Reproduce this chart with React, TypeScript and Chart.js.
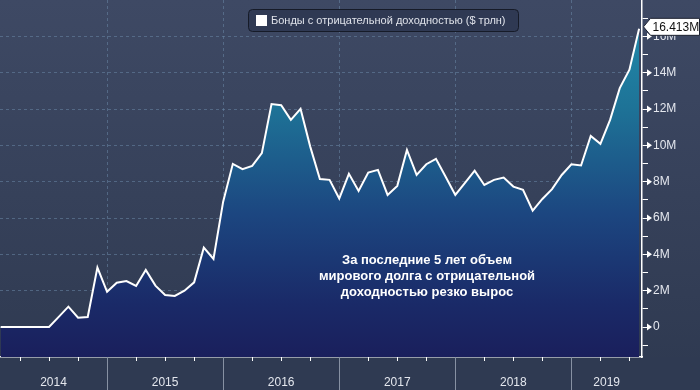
import React, { useEffect, useRef } from "react";
import { Chart, registerables } from "chart.js";

Chart.register(...registerables);

// months since Jan 2014 (month-end points)
const months: number[] = Array.from({ length: 67 }, (_, i) => i + 1);
const values: number[] = [
  0, 0, 0, 0, 0, 0, 0.56, 1.12, 0.51, 0.55, 3.27, 1.94,
  2.44, 2.53, 2.26, 3.14, 2.28, 1.76, 1.71, 2.0, 2.46, 4.37, 3.75, 6.9,
  8.98, 8.69, 8.87, 9.57, 12.27, 12.21, 11.4, 12.01, 9.93, 8.15, 8.1, 7.07,
  8.43, 7.49, 8.5, 8.65, 7.27, 7.77, 9.75, 8.37, 8.96, 9.26, 8.27, 7.27,
  7.94, 8.61, 7.82, 8.1, 8.23, 7.73, 7.55, 6.41, 7.05, 7.59, 8.37, 8.96,
  8.89, 10.52, 10.08, 11.4, 13.15, 14.16, 16.413,
];
const yearLabels: string[] = ["2014", "2015", "2016", "2017", "2018", "2019"];
const yearBoundaries: number[] = [12, 24, 36, 48, 60];
const quarterTicks: number[] = [3, 6, 9, 15, 18, 21, 27, 30, 33, 39, 42, 45, 51, 54, 57, 63, 66];
const yTickValues: number[] = [-1, 0, 1, 2, 3, 4, 5, 6, 7, 8, 9, 10, 11, 12, 13, 14, 15, 16, 17];
const legendText = "Бонды с отрицательной доходностью ($ трлн)";
const lastValueLabel = "16.413M";
const annotationLines: string[] = [
  "За последние 5 лет объем",
  "мирового долга с отрицательной",
  "доходностью резко вырос",
];

const X_MIN = 0.93;
const X_MAX = 67.3;
const GRID = "rgba(105,135,165,0.55)";
const FONT = "'Liberation Sans', Arial, sans-serif";

const decorPlugin = {
  id: "decor",
  beforeDraw(chart: any) {
    const { ctx, width, height, chartArea } = chart;
    ctx.save();
    const bg = ctx.createLinearGradient(0, 0, 0, height);
    bg.addColorStop(0, "#3e4964");
    bg.addColorStop(1, "#2e3950");
    ctx.fillStyle = bg;
    ctx.fillRect(0, 0, width, height);
    ctx.fillStyle = "#2f3a52";
    ctx.fillRect(0, chartArea.bottom, width, height - chartArea.bottom);
    ctx.restore();
  },
  afterDraw(chart: any) {
    const { ctx, chartArea } = chart;
    const xs = chart.scales.x;
    const ys = chart.scales.y;
    ctx.save();
    // year separators below axis
    ctx.strokeStyle = "#8791a3";
    ctx.lineWidth = 1;
    yearBoundaries.forEach((m) => {
      const px = Math.round(xs.getPixelForValue(m)) + 0.5;
      ctx.beginPath();
      ctx.moveTo(px, chartArea.bottom);
      ctx.lineTo(px, chart.height);
      ctx.stroke();
    });
    // quarter ticks
    ctx.strokeStyle = "#ffffff";
    quarterTicks.forEach((m) => {
      const px = Math.round(xs.getPixelForValue(m)) + 0.5;
      ctx.beginPath();
      ctx.moveTo(px, chartArea.bottom);
      ctx.lineTo(px, chartArea.bottom + 4);
      ctx.stroke();
    });
    // year labels
    ctx.fillStyle = "#e4e7ee";
    ctx.font = `12px ${FONT}`;
    ctx.textAlign = "center";
    ctx.textBaseline = "middle";
    yearLabels.forEach((lab, i) => {
      const a = Math.max(i * 12, X_MIN);
      const b = Math.min((i + 1) * 12, X_MAX);
      const px = xs.getPixelForValue((a + b) / 2);
      ctx.fillText(lab, px, 383);
    });
    // triangles at major y ticks
    ctx.fillStyle = "#ffffff";
    yTickValues.forEach((v) => {
      if (v % 2 !== 0) return;
      const py = ys.getPixelForValue(v);
      ctx.beginPath();
      ctx.moveTo(chartArea.right + 5, py - 3.5);
      ctx.lineTo(chartArea.right + 10, py);
      ctx.lineTo(chartArea.right + 5, py + 3.5);
      ctx.closePath();
      ctx.fill();
    });
    // last value tag
    const last = values[values.length - 1];
    const ty = ys.getPixelForValue(last) - 2;
    const tx = chartArea.right + 1.5;
    ctx.beginPath();
    ctx.moveTo(tx, ty);
    ctx.lineTo(tx + 7, ty - 8.5);
    ctx.lineTo(699.5, ty - 8.5);
    ctx.lineTo(699.5, ty + 8.5);
    ctx.lineTo(tx + 7, ty + 8.5);
    ctx.closePath();
    ctx.fillStyle = "#ffffff";
    ctx.fill();
    ctx.strokeStyle = "#1d2230";
    ctx.lineWidth = 1;
    ctx.stroke();
    ctx.fillStyle = "#111111";
    ctx.font = `12px ${FONT}`;
    ctx.textAlign = "left";
    ctx.textBaseline = "middle";
    ctx.fillText(lastValueLabel, tx + 9, ty + 1);
    // legend
    const lx = 248.5, ly = 9.5, lw = 270, lh = 22;
    ctx.beginPath();
    ctx.roundRect(lx, ly, lw, lh, 4);
    ctx.fillStyle = "#2f3953";
    ctx.fill();
    ctx.strokeStyle = "#161b28";
    ctx.stroke();
    ctx.fillStyle = "#ffffff";
    ctx.fillRect(256, 15, 11, 11);
    ctx.fillStyle = "#dfe2ea";
    ctx.font = `11px ${FONT}`;
    ctx.textAlign = "left";
    ctx.fillText(legendText, 271, 21);
    // annotation
    ctx.fillStyle = "#ffffff";
    ctx.font = `bold 13px ${FONT}`;
    ctx.textAlign = "center";
    annotationLines.forEach((l, i) => {
      ctx.fillText(l, 427, 260 + i * 16);
    });
    ctx.restore();
  },
};

export default function App() {
  const ref = useRef<HTMLCanvasElement | null>(null);
  useEffect(() => {
    document.body.style.margin = "0";
    const canvas = ref.current!;
    const chart = new Chart(canvas, {
      type: "line",
      data: {
        datasets: [
          {
            data: months.map((m, i) => ({ x: m, y: values[i] })),
            borderColor: "#ffffff",
            borderWidth: 2,
            pointRadius: 0,
            tension: 0,
            fill: "start",
            backgroundColor: (c: any) => {
              const area = c.chart.chartArea;
              if (!area) return "#1d4a80";
              const g = c.chart.ctx.createLinearGradient(0, area.top, 0, area.bottom);
              g.addColorStop(0, "#2290b0");
              g.addColorStop(0.3, "#1e7397");
              g.addColorStop(0.6, "#1c4680");
              g.addColorStop(0.85, "#1a2a68");
              g.addColorStop(1, "#1a1f5c");
              return g;
            },
          },
        ],
      },
      plugins: [decorPlugin],
      options: {
        animation: false,
        responsive: false,
        layout: { padding: 0 },
        plugins: { legend: { display: false }, tooltip: { enabled: false } },
        scales: {
          x: {
            type: "linear",
            min: X_MIN,
            max: X_MAX,
            afterBuildTicks: (s: any) => {
              s.ticks = yearBoundaries.map((v) => ({ value: v }));
            },
            afterFit: (s: any) => {
              s.height = 33;
              s.paddingLeft = 0;
              s.paddingRight = 0;
            },
            ticks: { display: false },
            grid: { color: GRID, drawTicks: false, lineWidth: 1 },
            border: { display: true, color: "#ffffff", width: 1.5, dash: [3, 3] },
          },
          y: {
            position: "right",
            min: -1.65,
            max: 18,
            afterBuildTicks: (s: any) => {
              s.ticks = yTickValues.map((v) => ({ value: v }));
            },
            afterFit: (s: any) => {
              s.width = 58;
              s.paddingTop = 0;
              s.paddingBottom = 0;
            },
            ticks: {
              color: "#e4e7ee",
              font: { family: FONT, size: 12 },
              padding: 5,
              callback: (v: any) => (Number(v) % 2 !== 0 ? "" : Number(v) === 0 ? "0" : `${v}M`),
            },
            grid: {
              color: (c: any) => (c.tick && c.tick.value % 2 === 0 ? GRID : "transparent"),
              tickColor: "#ffffff",
              tickLength: 6,
              tickWidth: 1,
              lineWidth: 1,
            },
            border: { display: true, color: "#ffffff", width: 1.5, dash: [3, 3] },
          },
        },
      },
    });
    return () => chart.destroy();
  }, []);
  return (
    <div style={{ position: "absolute", left: 0, top: 0, width: 700, height: 390 }}>
      <canvas ref={ref} width={700} height={390} />
    </div>
  );
}
